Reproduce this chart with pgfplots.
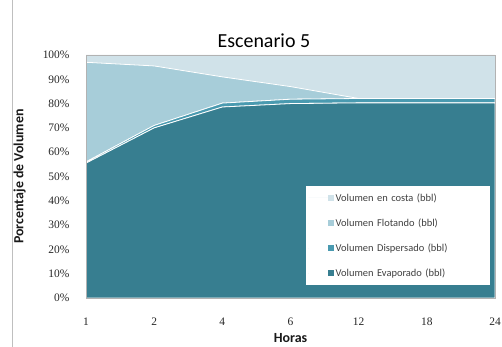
\documentclass[border=0pt]{standalone}
\usepackage{pgfplots}
\pgfplotsset{compat=1.18}
\usepackage{fontspec}
\setmainfont{Carlito}
\newfontfamily\numfont{Liberation Serif}

\definecolor{cEvap}{RGB}{55,126,144}
\definecolor{cDisp}{RGB}{74,154,176}
\definecolor{cFlot}{RGB}{167,205,217}
\definecolor{cCosta}{RGB}{208,226,233}

\begin{document}
\begin{tikzpicture}
\path[use as bounding box] (0bp,0bp) rectangle (502bp,347bp);
\draw[gray!50, line width=0.8bp] (12bp,-2bp) -- (12bp,349bp);
\begin{axis}[
  at={(86bp,49bp)}, anchor=south west,
  scale only axis, width=409bp, height=243bp,
  stack plots=y, area style,
  xmin=0, xmax=6, ymin=0, ymax=100,
  xtick={0,...,6}, xticklabels={1,2,4,6,12,18,24},
  ytick={0,10,...,100},
  yticklabel={\pgfmathprintnumber{\tick}\%},
  /pgf/number format/assume math mode=true,
  tick label style={font=\numfont\fontsize{11.5}{12}\selectfont, text=black!85},
  major tick length=0pt,
  xtick style={draw=none}, ytick style={draw=none},
  xticklabel shift=16bp, yticklabel shift=13bp,
  axis line style={gray!60},
  axis on top,
  title={Escenario 5},
  title style={font=\fontsize{20}{22}\selectfont, at={(0.435,1)}, yshift=-2bp},
  xlabel={\textbf{Horas}},
  ylabel={\textbf{Porcentaje de Volumen}},
  label style={font=\fontsize{14}{15}\selectfont, text=black!90},
  xlabel style={yshift=-1bp},
  ylabel style={at={(axis description cs:-0.162,0.5)}, anchor=center},
  legend style={at={(0.538,0.053)}, anchor=south west, draw=none, fill=white,
    font=\fontsize{10.5}{11}\selectfont, text=black!75,
    inner xsep=2bp, inner ysep=5bp, row sep=12bp,
    text width=150bp},
  legend image code/.code={\path (0bp,0bp) -- (24bp,0bp);
    \fill[#1, draw=none] (19bp,-3bp) rectangle (25bp,3bp);},
  legend cell align=left,
  reverse legend,
]
\addplot[fill=cEvap, draw=white, line width=0.8bp] coordinates {(0,55.5) (1,70) (2,78.6) (3,80) (4,80.3) (5,80.3) (6,80.3)} \closedcycle;
\addlegendentry{Volumen Evaporado (bbl)}
\addplot[fill=cDisp, draw=white, line width=0.8bp] coordinates {(0,0.5) (1,1) (2,1.6) (3,1.8) (4,1.8) (5,1.8) (6,1.8)} \closedcycle;
\addlegendentry{Volumen Dispersado (bbl)}
\addplot[fill=cFlot, draw=white, line width=0.8bp] coordinates {(0,41) (1,24.5) (2,10.8) (3,5.2) (4,0) (5,0) (6,0)} \closedcycle;
\addlegendentry{Volumen Flotando (bbl)}
\addplot[fill=cCosta, draw=none] coordinates {(0,3) (1,4.5) (2,9) (3,13) (4,17.9) (5,17.9) (6,17.9)} \closedcycle;
\addlegendentry{Volumen en costa (bbl)}
\end{axis}
\end{tikzpicture}
\end{document}
